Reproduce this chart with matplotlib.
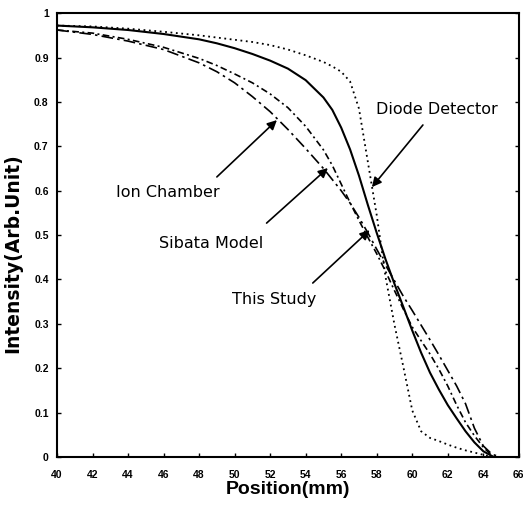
import matplotlib
matplotlib.use("Agg")
import matplotlib.pyplot as plt

plt.rcParams['font.family'] = ['Liberation Sans', 'DejaVu Sans']

# ---- data ----
this_x = [40, 42, 44, 46, 48, 49, 50, 51, 52, 53, 54, 55, 55.5, 56, 56.5, 57, 57.5, 58,
          58.5, 59, 59.5, 60, 60.5, 61, 61.5, 62, 62.5, 63, 63.5, 64, 64.5]
this_y = [0.972, 0.968, 0.962, 0.953, 0.941, 0.932, 0.921, 0.908, 0.893, 0.875, 0.849,
          0.810, 0.782, 0.742, 0.693, 0.634, 0.568, 0.505, 0.445, 0.390, 0.338, 0.285,
          0.235, 0.190, 0.152, 0.117, 0.087, 0.058, 0.033, 0.013, 0.002]

diode_x = [40, 42, 44, 46, 48, 50, 51, 52, 53, 54, 55, 55.5, 56, 56.5, 57, 57.5, 58,
           58.5, 59, 59.5, 60, 60.5, 61, 61.5, 62, 62.5, 63, 63.5, 64, 64.5]
diode_y = [0.972, 0.970, 0.965, 0.958, 0.950, 0.940, 0.935, 0.928, 0.918, 0.905, 0.890,
           0.880, 0.868, 0.846, 0.785, 0.665, 0.545, 0.405, 0.298, 0.203, 0.105, 0.058,
           0.043, 0.036, 0.028, 0.021, 0.015, 0.010, 0.005, 0.0]

ion_x = [40, 42, 44, 46, 48, 49, 50, 51, 52, 53, 54, 55, 56, 56.5, 57, 57.5, 58, 58.5,
         59, 59.5, 60, 60.5, 61, 61.5, 62, 62.5, 63, 63.5, 64, 64.5, 65]
ion_y = [0.962, 0.952, 0.937, 0.918, 0.888, 0.868, 0.843, 0.812, 0.778, 0.738, 0.695,
         0.650, 0.600, 0.572, 0.540, 0.505, 0.468, 0.432, 0.397, 0.362, 0.330, 0.297,
         0.264, 0.230, 0.195, 0.160, 0.120, 0.065, 0.025, 0.006, 0.0]

sibata_x = [40, 42, 44, 46, 48, 49, 50, 51, 52, 53, 54, 55, 55.5, 56, 56.5, 57, 57.5,
            58, 58.5, 59, 59.5, 60, 60.5, 61, 61.5, 62, 62.5, 63, 63.5, 64, 64.5]
sibata_y = [0.962, 0.955, 0.941, 0.923, 0.898, 0.882, 0.863, 0.843, 0.818, 0.787, 0.745,
            0.692, 0.657, 0.615, 0.573, 0.533, 0.495, 0.458, 0.418, 0.375, 0.333, 0.293,
            0.262, 0.232, 0.198, 0.160, 0.117, 0.078, 0.048, 0.022, 0.003]

xticks = [40, 42, 44, 46, 48, 50, 52, 54, 56, 58, 60, 62, 64, 66]
yticks = [0, 0.1, 0.2, 0.3, 0.4, 0.5, 0.6, 0.7, 0.8, 0.9, 1]
ytick_labels = ['0', '0.1', '0.2', '0.3', '0.4', '0.5', '0.6', '0.7', '0.8', '0.9', '1']

labels = ['Diode Detector', 'Ion Chamber', 'Sibata Model', 'This Study']
label_pos = [(61.4, 0.782), (46.25, 0.595), (48.7, 0.482), (52.2, 0.354)]
arrow_from = [(60.6, 0.748), (49.0, 0.631), (51.8, 0.527), (54.4, 0.392)]
arrow_to = [(57.73, 0.608), (52.38, 0.759), (55.25, 0.651), (57.6, 0.511)]

# ---- figure ----
fig = plt.figure(figsize=(5.23, 5.05), dpi=100)
ax = fig.add_axes([0.109, 0.095, 0.883, 0.879])

ax.plot(this_x, this_y, color='black', lw=1.5, ls='-')
ax.plot(diode_x, diode_y, color='black', lw=1.3, ls=(0, (1, 2)))
ax.plot(ion_x, ion_y, color='black', lw=1.2, ls=(0, (7, 2.5, 1.5, 2.5)))
ax.plot(sibata_x, sibata_y, color='black', lw=1.2, ls=(0, (4, 2, 1.2, 2)))

for lab, (tx, ty), (fx, fy), (ex, ey) in zip(labels, label_pos, arrow_from, arrow_to):
    ax.text(tx, ty, lab, ha='center', va='center', fontsize=11.5,
            family=['DejaVu Sans'])
    ax.annotate('', xy=(ex, ey), xytext=(fx, fy),
                arrowprops=dict(arrowstyle='-|>', color='black', lw=1.2,
                                mutation_scale=14, shrinkA=0, shrinkB=0))

ax.set_xlim(40, 66)
ax.set_ylim(0, 1)
ax.set_xticks(xticks)
ax.set_xticklabels([str(t) for t in xticks], fontsize=7.5, fontweight='bold')
ax.set_yticks(yticks)
ax.set_yticklabels(ytick_labels, fontsize=7.5, fontweight='bold')
ax.tick_params(direction='in', length=3, width=1, top=False, right=True, pad=6)
ax.tick_params(axis='x', pad=9)
for s in ax.spines.values():
    s.set_linewidth(1.5)

ax.set_xlabel('Position(mm)', fontsize=14, fontweight='bold', labelpad=1)
ax.set_ylabel('Intensity(Arb.Unit)', fontsize=13.5, fontweight='bold',
              family=['DejaVu Sans'], labelpad=4)
ax.yaxis.set_label_coords(-0.075, 0.46)

fig.savefig('out.png', dpi=100)
